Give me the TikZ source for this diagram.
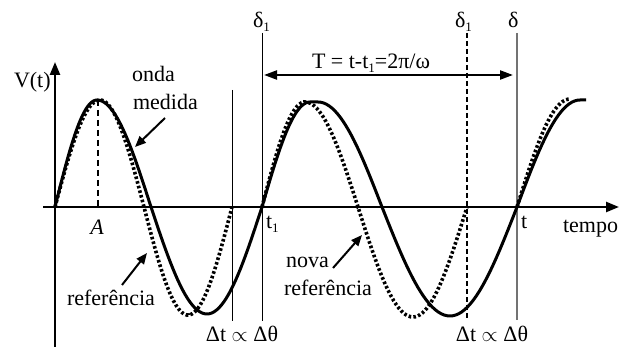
\documentclass[tikz,border=0pt]{standalone}
\usepackage{fontspec}
\setmainfont{Liberation Serif}
\usetikzlibrary{arrows.meta}
\newcommand{\lowone}{\raisebox{-0.35ex}{\fontsize{13}{13}\selectfont 1}}
\begin{document}
\begin{tikzpicture}[x=1pt,y=-1pt,
  every node/.style={inner sep=0pt,outer sep=0pt,font=\fontsize{22}{26}\selectfont},
  q/.style={domain=0:90,samples=24,variable=\a},
  wave/.style={line width=3pt,line join=round},
  dotwave/.style={line width=3.6pt,dash pattern=on 2.6pt off 2.2pt},
  axisline/.style={line width=2.4pt,-{Triangle[length=13pt,width=10pt]}},
  thinv/.style={line width=0.9pt},
  grayv/.style={line width=1.2pt,draw=black!55},
  dashv/.style={line width=1.5pt,dash pattern=on 5pt off 3pt},
  ptr/.style={line width=2pt,-{Triangle[length=11pt,width=9pt]}},
  dblptr/.style={line width=2.2pt,{Triangle[length=13pt,width=9pt]}-{Triangle[length=13pt,width=9pt]}}]
\useasboundingbox (0,0) rectangle (626,347);

% axes
\coordinate (xs) at (43,207);
\coordinate (xe) at (619,207);
\coordinate (ys) at (55,347);
\coordinate (ye) at (55,62);
\draw[axisline] (xs) -- (xe);
\draw[axisline] (ys) -- (ye);

% vertical markers
\coordinate (v1t) at (232,90);  \coordinate (v1b) at (232,321);
\coordinate (v2t) at (262,33);  \coordinate (v2b) at (262,321);
\coordinate (v3t) at (467,33);  \coordinate (v3b) at (467,318);
\coordinate (v4t) at (517,33);  \coordinate (v4b) at (517,320);
\coordinate (at) at (98,100);   \coordinate (ab) at (98,207);
\draw[thinv] (v1t) -- (v1b);
\draw[thinv] (v2t) -- (v2b);
\draw[dashv] (v3t) -- (v3b);
\draw[grayv] (v4t) -- (v4b);
\draw[line width=2pt,dash pattern=on 6pt off 4pt] (at) -- (ab);

% reference (dotted) waves
\draw[dotwave] plot[q] ({55+45*\a/90},{207-107*sin(\a)})
  -- plot[q] ({100+44*\a/90},{207-107*cos(\a)})
  -- plot[q] ({144+44*\a/90},{207+108*sin(\a)})
  -- plot[q] ({188+44*\a/90},{207+108*cos(\a)});
\draw[dotwave] plot[q] ({262+43*\a/90},{207-105*sin(\a)})
  -- plot[q] ({305+53*\a/90},{207-105*cos(\a)})
  -- plot[q] ({358+55*\a/90},{207+110*sin(\a)})
  -- plot[q] ({413+54*\a/90},{207+110*cos(\a)});
\draw[dotwave] plot[q] ({517+53*\a/90},{207-108*sin(\a)});

% measured wave (solid)
\draw[wave] plot[q] ({55+42*\a/90},{207-107*sin(\a)})
  -- plot[q] ({97+54*\a/90},{207-107*cos(\a)})
  -- plot[q] ({151+56*\a/90},{207+107*sin(\a)})
  -- plot[q] ({207+55*\a/90},{207+107*cos(\a)})
  -- plot[q] ({262+48*\a/90},{207-105*sin(\a)})
  -- plot[q] ({318+64*\a/90},{207-105*cos(\a)})
  -- plot[q] ({382+68*\a/90},{207+109*sin(\a)})
  -- plot[q] ({450+67*\a/90},{207+109*cos(\a)})
  -- plot[q] ({517+63*\a/90},{207-107*sin(\a)})
  -- (586,100);

% period arrow
\coordinate (pl) at (264,75);
\coordinate (pr) at (513,75);
\draw[dblptr] (pl) -- (pr);

% labels
\node[anchor=base west] (vt) at (14,88) {V(t)};
\node[anchor=base west] (onda) at (132,82) {onda};
\node[anchor=base west] (medida) at (133,110) {medida};
\node[anchor=base] (A) at (97,235) {\itshape A};
\node[anchor=base west] (t1) at (266,229) {t\lowone};
\node[anchor=base west] (t) at (521,229) {t};
\node[anchor=base west] (tempo) at (563,233) {tempo};
\node[anchor=base west] (ref1) at (67,305) {referência};
\node[anchor=base west] (nova) at (286,267) {nova};
\node[anchor=base west] (ref2) at (284,295) {referência};
\node[anchor=base] (dt1) at (242,341) {Δt $\propto$ Δθ};
\node[anchor=base] (dt2) at (492,341) {Δt $\propto$ Δθ};
\node[anchor=base west] (d1a) at (253,28) {δ\lowone};
\node[anchor=base west] (d1b) at (455,28) {δ\lowone};
\node[anchor=base west] (d) at (508,28) {δ};
\node[anchor=base west] (T) at (312,69) {T = t-t\lowone=2π/ω};

% pointer arrows
\coordinate (oA) at (165,118); \coordinate (oB) at (135,147);
\coordinate (rA) at (122,285); \coordinate (rB) at (147,253);
\coordinate (nA) at (333,268); \coordinate (nB) at (362,235);
\draw[ptr] (oA) -- (oB);
\draw[ptr] (rA) -- (rB);
\draw[ptr] (nA) -- (nB);
\end{tikzpicture}
\end{document}
